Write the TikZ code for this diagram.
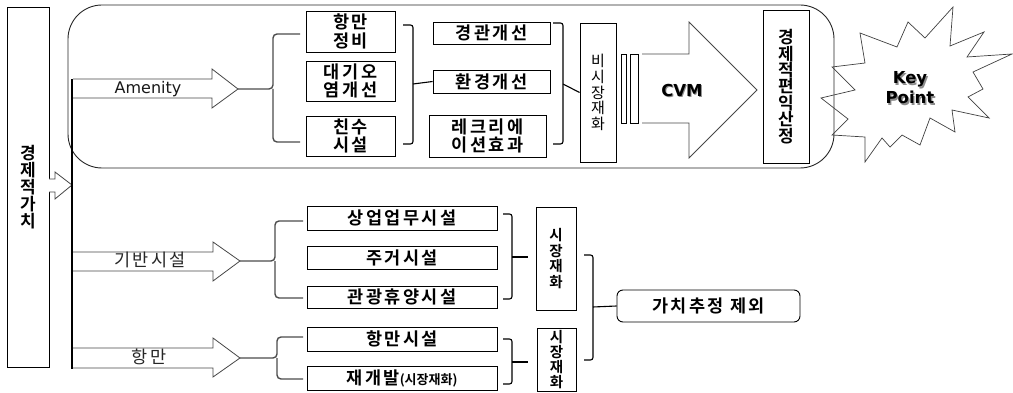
\documentclass[tikz,border=0pt]{standalone}
\usepackage{fontspec}
\newfontfamily\kr{Noto Sans CJK KR}[BoldFont=* Bold, LetterSpace=14]
\newfontfamily\krv{Noto Sans CJK KR}[BoldFont=* Bold]
\newfontfamily\dv{DejaVu Sans}[BoldFont=* Bold]
\begin{document}
\begin{tikzpicture}[x=1pt,y=-1pt,
  box/.style={draw=black, line width=0.9pt, inner sep=0pt, align=center},
  kb/.style={font=\kr\bfseries\fontsize{17.5}{18.5}\selectfont},
  kr/.style={font=\kr\fontsize{17.5}{18.5}\selectfont},
  arr/.style={draw=black!72, line width=0.8pt, fill=white, line join=miter},
  brc/.style={draw=black!70, line width=1.4pt, rounded corners=4pt},
  brk/.style={draw=black, line width=1.1pt, rounded corners=2.5pt},
  shd/.style={text=black!45}
]
\useasboundingbox (0,0) rectangle (1013,393);

% big rounded frame
\node[draw=black!85, line width=0.9pt, rounded corners=34pt, minimum width=766pt, minimum height=163pt, inner sep=0pt] (amen) at (451,86.5) {};

% left box
\node[box, minimum width=42pt, minimum height=360pt, font=\krv\bfseries\fontsize{17}{17}\selectfont] (val) at (28,187) {경\\제\\적\\가\\치};

% small block arrow from left box
\coordinate (vtop) at (72,79);
\coordinate (vbot) at (72,369);
\draw[arr] (49,179) -- (55,179) -- (55,172) -- (72,185) -- (55,199) -- (55,192) -- (49,192);
\draw[line width=1.7pt] (vtop) -- (vbot);

% block arrows
\draw[arr] (73,79) -- (212,79) -- (212,69) -- (238,89) -- (212,108) -- (212,98) -- (73,98);
\coordinate (tA) at (238,89);
\node[font=\dv\fontsize{16}{18}\selectfont, text=black!90] (lamen) at (148,89) {Amenity};

\draw[arr] (73,252) -- (213,252) -- (213,242) -- (240,261) -- (213,281) -- (213,271) -- (73,271);
\coordinate (tB) at (240,261);
\node[kr, text=black!85] (lgb) at (150,260) {기반시설};

\draw[arr] (73,348) -- (213,348) -- (213,338) -- (240,358) -- (213,377) -- (213,368) -- (73,368);
\coordinate (tC) at (240,358);
\node[kr, text=black!85] (lhm) at (149,357) {항만};

% column 1 (amenity)
\node[box, kb, minimum width=89pt, minimum height=41pt] (hm1) at (350.5,31.5) {항만\\정비};
\node[box, kb, minimum width=89pt, minimum height=40pt] (dg) at (350.5,81) {대기오\\염개선};
\node[box, kb, minimum width=89pt, minimum height=40pt] (cs) at (350.5,136) {친수\\시설};

% column 2
\node[box, kb, minimum width=117pt, minimum height=22pt] (gg) at (491.5,33) {경관개선};
\node[box, kb, minimum width=117pt, minimum height=23pt] (hg) at (491.5,81.5) {환경개선};
\node[box, kb, minimum width=117pt, minimum height=42pt] (rc) at (487.5,136) {레크리에\\이션효과};

% non-market goods
\node[box, minimum width=36pt, minimum height=139pt, font=\krv\fontsize{15}{15.7}\selectfont] (bsj) at (598,92.5) {비\\시\\장\\재\\화};

% narrow bars
\node[box, line width=0.8pt, minimum width=5pt, minimum height=69pt] (r1) at (623.5,88.5) {};
\node[box, line width=0.8pt, minimum width=8pt, minimum height=69pt] (r2) at (634,88.5) {};

% CVM arrow
\draw[arr] (642,54) -- (689,54) -- (689,22) -- (757,90) -- (689,158) -- (689,123) -- (642,123);
\node[font=\dv\bfseries\fontsize{16.5}{18}\selectfont, shd] at (683,91) {CVM};
\node[font=\dv\bfseries\fontsize{16.5}{18}\selectfont] (cvm) at (682,90) {CVM};

% economic benefit
\node[box, minimum width=46pt, minimum height=153pt, font=\krv\bfseries\fontsize{17}{16.4}\selectfont] (gp) at (786,86.5) {경\\제\\적\\편\\익\\산\\정};

% star
\draw[draw=black!75, line width=0.7pt] (832,67) -- (865,63) -- (860,33) -- (897,47) -- (908,22) -- (925,38) -- (953,7) -- (950,46) -- (984,32) -- (967,57) -- (1012,54) -- (973,72) -- (983,89) -- (968,97) -- (989,118) -- (952,110) -- (955,132) -- (930,118) -- (920,145) -- (902,135) -- (890,147) -- (882,138) -- (865,162) -- (865,137) -- (832,135) -- (848,119) -- (821,98) -- (855,90) -- cycle;
\node[font=\dv\bfseries\fontsize{16.5}{20}\selectfont, align=center, shd] at (911.3,89.3) {Key\\Point};
\node[font=\dv\bfseries\fontsize{16.5}{20}\selectfont, align=center] (kp) at (910,88) {Key\\Point};

% lower boxes
\node[box, kb, minimum width=190pt, minimum height=24pt] (sm) at (402,218) {상업업무시설};
\node[box, kb, minimum width=190pt, minimum height=23pt] (jg) at (402,257.5) {주거시설};
\node[box, kb, minimum width=190pt, minimum height=22pt] (gh) at (402,297) {관광휴양시설};
\node[box, kb, minimum width=190pt, minimum height=24pt] (hs) at (402,339) {항만시설};
\node[box, kb, minimum width=190pt, minimum height=24pt] (jgb) at (402,378) {재개발{\krv\bfseries\fontsize{13}{14}\selectfont(시장재화)}};

\node[box, minimum width=40pt, minimum height=103pt, font=\krv\bfseries\fontsize{14.5}{15.7}\selectfont] (sj1) at (556,258.5) {시\\장\\재\\화};
\node[box, minimum width=39pt, minimum height=63pt, font=\krv\bfseries\fontsize{14.5}{15.2}\selectfont] (sj2) at (556.5,359.5) {시\\장\\재\\화};

\node[box, rounded corners=6pt, minimum width=183pt, minimum height=32pt, kb] (gcj) at (708.5,306) {가치추정 제외};

% braces after block arrows
\draw[brc] (300,34) -| (273,89) -- (tA);
\draw[brc] (300,142) -| (273,89);
\draw[brc] (303,221) -| (275,261) -- (tB);
\draw[brc] (303,298) -| (275,261);
\draw[brc] (303,337) -| (277,358) -- (tC);
\draw[brc] (303,379) -| (277,358);

% right brackets
\draw[brk] (403,25) -- (413,25) -- (413,144) -- (403,144);
\draw[line width=1.1pt] (413,84) -- (hg.west);
\draw[brk] (553,23) -- (563,23) -- (563,144) -- (553,144);
\draw[line width=1.1pt] (563,84) -- (bsj.west);
\draw[brk] (503,214) -- (512,214) -- (512,299) -- (503,299);
\draw[line width=1.1pt] (512,257) -- (528,257);
\draw[brk] (503,339) -- (512,339) -- (512,384) -- (503,384);
\draw[line width=1.1pt] (512,362) -- (528,362);
\draw[brk] (584,255) -- (593,255) -- (593,360) -- (584,360);
\draw[line width=1.1pt] (593,307) -- (gcj.west);
\end{tikzpicture}
\end{document}
